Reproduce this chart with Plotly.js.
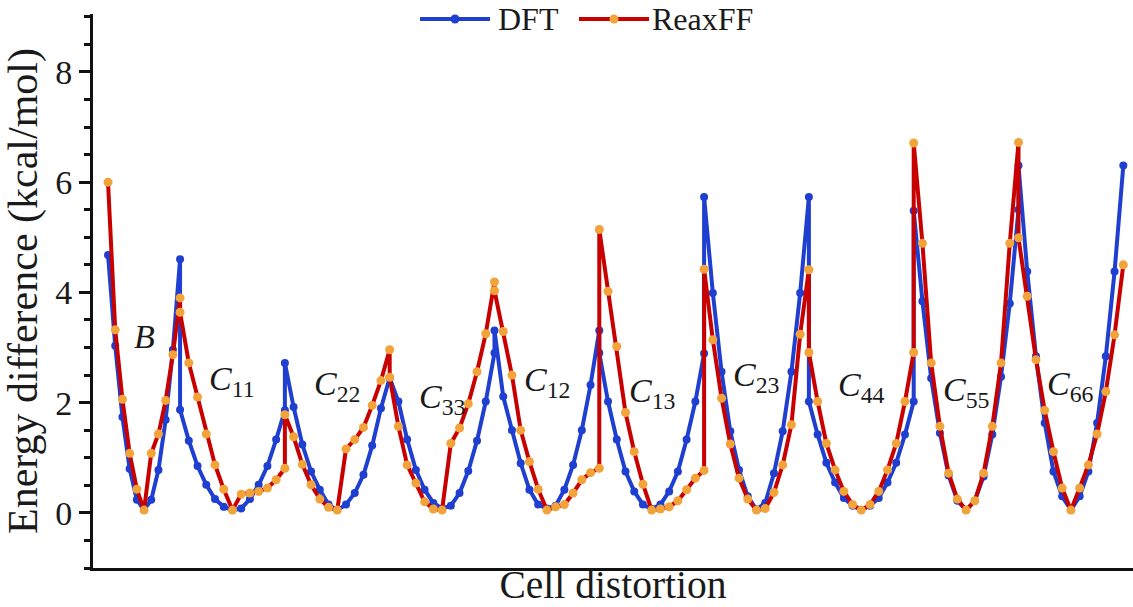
<!DOCTYPE html>
<html><head><meta charset="utf-8">
<script src="https://cdn.plot.ly/plotly-3.0.1.min.js"></script>
<style>html,body{margin:0;padding:0;background:#fff}#chart{width:1133px;height:607px}</style>
</head><body><div id="chart"></div>
<script>
// ---- data (energy difference, kcal/mol) ----
const segments = ['B','C11','C22','C33','C12','C13','C23','C44','C55','C66'];

const dftB   = [4.68, 3.03, 1.74, 0.80, 0.24, 0.05, 0.24, 0.78, 1.69, 2.96, 4.60];
const dftC11 = [1.87, 1.31, 0.85, 0.51, 0.25, 0.11, 0.05, 0.08, 0.25, 0.51, 0.85, 1.33, 1.86];
const dftC22 = [2.72, 1.92, 1.24, 0.75, 0.42, 0.15, 0.05, 0.15, 0.36, 0.69, 1.22, 1.90, 2.45];
const dftC33 = [2.45, 2.02, 1.33, 0.78, 0.42, 0.18, 0.08, 0.13, 0.36, 0.76, 1.31, 2.02, 2.90];
const dftC12 = [3.31, 2.11, 1.50, 0.90, 0.42, 0.15, 0.08, 0.13, 0.42, 0.87, 1.50, 2.32, 3.31];
const dftC13 = [2.90, 2.02, 1.33, 0.75, 0.39, 0.15, 0.07, 0.15, 0.39, 0.75, 1.33, 2.02, 2.89];
const dftC23 = [5.73, 3.99, 2.56, 1.48, 0.78, 0.30, 0.06, 0.18, 0.72, 1.48, 2.56, 3.99, 5.73];
const dftC44 = [2.02, 1.42, 0.91, 0.55, 0.27, 0.13, 0.05, 0.13, 0.27, 0.55, 0.91, 1.42, 2.02];
const dftC55 = [5.48, 3.84, 2.44, 1.45, 0.68, 0.22, 0.05, 0.22, 0.66, 1.42, 2.47, 3.80, 5.50];
const dftC66 = [6.30, 4.38, 2.84, 1.63, 0.75, 0.30, 0.05, 0.30, 0.75, 1.63, 2.84, 4.38, 6.30];

const rxB   = [6.00, 3.32, 2.06, 1.08, 0.43, 0.05, 1.08, 1.43, 2.04, 2.87, 3.90];
const rxC11 = [3.64, 2.72, 2.10, 1.43, 0.87, 0.43, 0.05, 0.34, 0.36, 0.39, 0.45, 0.60, 0.81];
const rxC22 = [1.78, 1.38, 0.88, 0.51, 0.25, 0.10, 0.05, 1.16, 1.33, 1.55, 1.95, 2.40, 2.96];
const rxC33 = [2.46, 1.57, 0.87, 0.54, 0.20, 0.07, 0.05, 1.26, 1.54, 1.98, 2.56, 3.25, 4.19];
const rxC12 = [4.03, 3.29, 2.50, 1.50, 0.93, 0.43, 0.05, 0.11, 0.15, 0.36, 0.60, 0.73, 0.81];
const rxC13 = [5.14, 4.02, 3.02, 1.82, 1.11, 0.52, 0.05, 0.07, 0.11, 0.22, 0.42, 0.63, 0.77];
const rxC23 = [4.42, 3.14, 2.08, 1.25, 0.63, 0.25, 0.05, 0.08, 0.37, 0.87, 1.60, 3.24, 4.41];
const rxC44 = [2.91, 2.02, 1.26, 0.78, 0.39, 0.15, 0.05, 0.15, 0.39, 0.78, 1.26, 2.02, 2.91];
const rxC55 = [6.71, 4.89, 2.72, 1.57, 0.72, 0.25, 0.05, 0.22, 0.72, 1.57, 2.72, 4.89, 6.72];
const rxC66 = [4.99, 3.93, 2.78, 1.86, 1.11, 0.45, 0.05, 0.45, 0.87, 1.43, 2.20, 3.23, 4.50];

const dftSegs = [dftB, dftC11, dftC22, dftC33, dftC12, dftC13, dftC23, dftC44, dftC55, dftC66];
const rxSegs  = [rxB, rxC11, rxC22, rxC33, rxC12, rxC13, rxC23, rxC44, rxC55, rxC66];

// ---- distortion axis: B sampled with a finer step, adjacent scans share their end point ----
const bStep = 0.825;
function buildX(segs) {
  const xs = [];
  let start = 0;
  segs.forEach((seg, j) => {
    const step = j === 0 ? bStep : 1;
    seg.forEach((_, k) => xs.push(start + k * step));
    start += (seg.length - 1) * step;
  });
  return xs;
}
function segCentres(segs) {
  const c = [];
  let start = 0;
  segs.forEach((seg, j) => {
    const step = j === 0 ? bStep : 1;
    c.push(start + (seg.length - 1) * step / 2);
    start += (seg.length - 1) * step;
  });
  return c;
}
const xAll = buildX(dftSegs);
const dftAll = [].concat(...dftSegs);
const rxAll = [].concat(...rxSegs);

// ---- styling ----
const FONT = 'Liberation Serif';
const BLUE = '#1f3fd1', RED = '#c80000', ORANGE = '#f2a33a';
const INK = '#1a1a1a';

const traces = [
  {x: xAll, y: dftAll, name: 'DFT', type: 'scatter', mode: 'lines+markers',
   line: {color: BLUE, width: 4}, marker: {color: BLUE, size: 8}},
  {x: xAll, y: rxAll, name: 'ReaxFF', type: 'scatter', mode: 'lines+markers',
   line: {color: RED, width: 4}, marker: {color: ORANGE, size: 9}}
];

const labelY = [3.2, 2.4, 2.3, 2.07, 2.38, 2.17, 2.47, 2.28, 2.2, 2.31];
const centres = segCentres(dftSegs);
const annotations = segments.map((s, i) => ({
  x: centres[i], y: labelY[i], xref: 'x', yref: 'y', showarrow: false,
  text: s === 'B' ? '<i>B</i>' : '<i>C</i><sub>' + s.slice(1) + '</sub>',
  font: {family: FONT, size: 34, color: INK}, xanchor: 'center', yanchor: 'middle'
}));

// manual legend (long line samples with a dot in the middle)
const W = 1133, H = 607, ML = 93, MR = 0, MT = 14, MB = 39;
const pw = W - ML - MR, ph = H - MT - MB;
const px = v => (v - ML) / pw, py = v => (H - MB - v) / ph;
const legendItems = [
  {name: 'DFT', color: BLUE, dot: BLUE, x0: 420, x1: 490, tx: 496},
  {name: 'ReaxFF', color: RED, dot: ORANGE, x0: 579, x1: 649, tx: 650}
];
const legY = 19;
const shapes = [];
legendItems.forEach(it => {
  shapes.push({type: 'line', xref: 'paper', yref: 'paper', x0: px(it.x0), x1: px(it.x1),
    y0: py(legY), y1: py(legY), line: {color: it.color, width: 4}});
  shapes.push({type: 'circle', xref: 'paper', yref: 'paper', xsizemode: 'pixel', ysizemode: 'pixel',
    xanchor: px((it.x0 + it.x1) / 2), yanchor: py(legY), x0: -4.5, x1: 4.5, y0: -4.5, y1: 4.5,
    fillcolor: it.dot, line: {width: 0}});
  annotations.push({xref: 'paper', yref: 'paper', x: px(it.tx), y: py(legY), xanchor: 'left',
    yanchor: 'middle', showarrow: false, text: it.name,
    font: {family: FONT, size: 32, color: INK}});
});

const layout = {
  width: W, height: H,
  margin: {l: ML, r: MR, t: MT, b: MB, pad: 0},
  paper_bgcolor: '#fff', plot_bgcolor: '#fff',
  showlegend: false,
  font: {family: FONT, color: INK},
  xaxis: {
    range: [-1.72, 117.36], showgrid: false, zeroline: false,
    showticklabels: false, ticks: '', showline: true, linecolor: '#111', linewidth: 3,
    title: {text: 'Cell distortion', font: {family: FONT, size: 39.5, color: INK}, standoff: 9}
  },
  yaxis: {
    range: [-1.0, 9.05], showgrid: false, zeroline: false,
    showline: true, linecolor: '#111', linewidth: 3,
    ticks: 'outside', ticklen: 11, tickwidth: 3, tickcolor: '#111',
    tickvals: [0, 2, 4, 6, 8],
    tickfont: {family: FONT, size: 34, color: INK},
    minor: {dtick: 0.5, tick0: 0, ticks: 'outside', ticklen: 6, tickwidth: 3, tickcolor: '#111', showgrid: false},
    title: {text: 'Energy difference (kcal/mol)', font: {family: FONT, size: 42, color: INK}, standoff: 8}
  },
  annotations: annotations,
  shapes: shapes
};

Plotly.newPlot('chart', traces, layout, {displayModeBar: false, staticPlot: true});
</script>
</body></html>
